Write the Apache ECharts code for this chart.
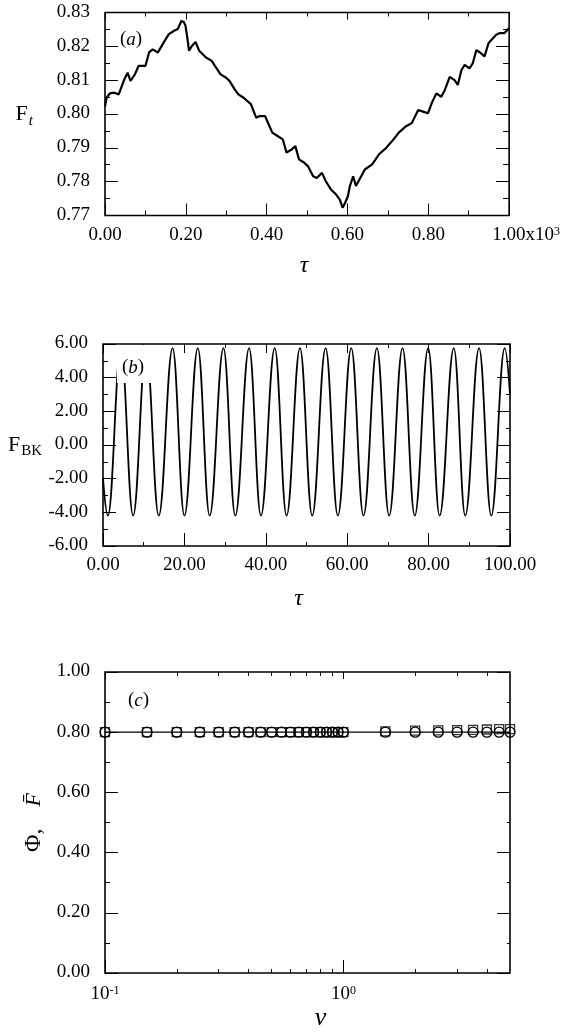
<!DOCTYPE html>
<html><head><meta charset="utf-8">
<script src="https://cdn.jsdelivr.net/npm/echarts@6.0.0/dist/echarts.min.js"></script>
<style>html,body{margin:0;padding:0;background:#fff}#c{width:563px;height:1032px}</style>
</head><body><div id="c"></div>
<script>
// ---------- Panel (a): F_t vs tau ----------
const tauA = [0,4,12,23,34,48,56,63,74,83,100,109,118,131,145,158,171,180,189,195,199,203,208,215,224,233,250,264,272,286,299,308,321,330,343,361,374,383,396,414,427,440,449,462,471,480,493,502,515,524,537,546,559,572,581,588,594,601,606,614,621,630,643,661,678,696,714,727,745,759,775,787,799,808,820,832,841,853,865,873,882,890,902,910,919,931,939,949,956,968,976,988,996,1000];
const ftA = [0.8022,0.8048,0.8061,0.8063,0.8058,0.8103,0.8122,0.8098,0.8117,0.8142,0.8142,0.8182,0.8191,0.8182,0.8211,0.8236,0.8246,0.8251,0.8275,0.8272,0.8262,0.8231,0.8187,0.8201,0.8213,0.8187,0.8167,0.8157,0.8142,0.8117,0.8108,0.8098,0.8073,0.8058,0.8048,0.8029,0.7989,0.7994,0.7994,0.7945,0.7935,0.7925,0.7886,0.7895,0.7905,0.7866,0.7856,0.7846,0.7816,0.7811,0.7826,0.7802,0.7777,0.7762,0.7747,0.7723,0.7737,0.7757,0.7787,0.7816,0.7787,0.7807,0.7836,0.7851,0.7881,0.7900,0.7925,0.7945,0.7964,0.7973,0.8012,0.8007,0.8002,0.8031,0.8061,0.8051,0.8071,0.8110,0.8100,0.8086,0.8130,0.8145,0.8135,0.8150,0.8189,0.8179,0.8170,0.8209,0.8219,0.8234,0.8239,0.8239,0.8249,0.8254];
const xTicksA = [0,200,400,600,800,1000];
const xLabelsA = ['0.00','0.20','0.40','0.60','0.80','1.00x10^3'];
const yTicksA = [0.77,0.78,0.79,0.80,0.81,0.82,0.83];
const yLabelsA = ['0.77','0.78','0.79','0.80','0.81','0.82','0.83'];

// ---------- Panel (b): F_BK vs tau (turning points) ----------
const tauB = [0,1.2,4.4,7.4,10.6,13.7,17.1,20.0,23.3,26.2,29.6,32.5,35.9,38.8,42.2,45.1,48.4,51.4,54.7,57.7,61.0,64.0,67.3,70.3,73.6,76.6,79.9,82.7,86.2,89.0,92.4,95.4,98.7,100];
const fBK = [-2.0,-4.2,5.75,-4.2,5.75,-4.2,5.75,-4.2,5.75,-4.2,5.75,-4.2,5.75,-4.2,5.75,-4.2,5.75,-4.2,5.75,-4.2,5.75,-4.2,5.75,-4.2,5.75,-4.2,5.75,-4.2,5.75,-4.2,5.75,-4.2,5.75,3.0];
const xTicksB = [0,20,40,60,80,100];
const xLabelsB = ['0.00','20.00','40.00','60.00','80.00','100.00'];
const yTicksB = [-6,-4,-2,0,2,4,6];
const yLabelsB = ['-6.00','-4.00','-2.00','0.00','2.00','4.00','6.00'];

// ---------- Panel (c): Phi and F-bar vs nu ----------
const nuC = [0.1,0.15,0.2,0.25,0.3,0.35,0.4,0.45,0.5,0.55,0.6,0.65,0.7,0.75,0.8,0.85,0.9,0.95,1.0,1.5,2.0,2.5,3.0,3.5,4.0,4.5,5.0];
const phiC = [0.800,0.800,0.800,0.800,0.800,0.800,0.800,0.800,0.800,0.800,0.800,0.800,0.800,0.800,0.800,0.800,0.800,0.800,0.800,0.800,0.800,0.800,0.800,0.800,0.800,0.800,0.800];
const fbarC = [0.800,0.800,0.800,0.800,0.800,0.800,0.800,0.800,0.800,0.800,0.800,0.800,0.800,0.800,0.800,0.800,0.800,0.800,0.800,0.803,0.805,0.806,0.807,0.808,0.809,0.810,0.810];
const xMajorC = [0.1,1];
const xLabelsC = ['10^-1','10^0'];
const xMinorC = [0.2,0.3,0.4,0.5,0.6,0.7,0.8,0.9,2,3,4];
const yTicksC = [0,0.2,0.4,0.6,0.8,1.0];
const yLabelsC = ['0.00','0.20','0.40','0.60','0.80','1.00'];

// ---------- styling helpers ----------
const SERIF = 'Liberation Serif';
const BLACK = '#000';
const RICH = {
  n:   {fontFamily: SERIF, fontSize: 19, lineHeight: 20, verticalAlign: 'top', color: BLACK},
  sup: {fontFamily: SERIF, fontSize: 12, lineHeight: 12, verticalAlign: 'top', color: BLACK},
  pad: {width: 34}
};
function toRich(s) {
  const k = s.indexOf('^');
  if (k < 0) return '{n|' + s + '}';
  const base = s.slice(0, k), sup = s.slice(k + 1);
  const pad = base.indexOf('x') >= 0 ? '{pad|}' : '';
  return pad + '{n|' + base + '}{sup|' + sup + '}';
}
function fmt(ticks, labels) {
  return function (v) {
    let k = 0, best = Infinity;
    ticks.forEach(function (t, i) { const d = Math.abs(t - v); if (d < best) { best = d; k = i; } });
    return toRich(labels[k]);
  };
}
function tickStyle(len) { return {show: true, inside: true, length: len, lineStyle: {color: BLACK, width: 1}}; }
function minor(len) { return {show: true, splitNumber: 2, length: len, lineStyle: {color: BLACK, width: 1}}; }
const noLine = {show: false, onZero: false};
const noSplit = {show: false};

function linX(grid, pos, min, max, interval, ticks, labels, name, nameGap, namePad, majorLen, minorLen) {
  const a = {
    type: 'value', gridIndex: grid, position: pos, min: min, max: max, interval: interval,
    axisLine: noLine, splitLine: noSplit, minorSplitLine: noSplit,
    axisTick: tickStyle(majorLen), minorTick: minor(minorLen),
    axisLabel: labels ? {show: true, margin: 10, formatter: fmt(ticks, labels), rich: RICH, hideOverlap: false} : {show: false}
  };
  if (name) {
    a.name = name; a.nameLocation = 'middle'; a.nameGap = nameGap;
    a.nameTextStyle = {fontFamily: SERIF, fontStyle: 'italic', fontSize: 24, color: BLACK, padding: namePad};
  }
  return a;
}
function linY(grid, pos, min, max, interval, ticks, labels, name, nameGap, nameRotate, nameRich, majorLen, minorLen) {
  const a = {
    type: 'value', gridIndex: grid, position: pos, min: min, max: max, interval: interval,
    axisLine: noLine, splitLine: noSplit, minorSplitLine: noSplit,
    axisTick: tickStyle(majorLen), minorTick: minor(minorLen),
    axisLabel: labels ? {show: true, margin: 15, formatter: fmt(ticks, labels), rich: RICH, hideOverlap: false} : {show: false}
  };
  if (name) {
    a.name = name; a.nameLocation = 'middle'; a.nameGap = nameGap;
    if (nameRotate !== null) a.nameRotate = nameRotate;
    a.nameTextStyle = {fontFamily: SERIF, fontSize: 22, color: BLACK, rich: nameRich};
  }
  return a;
}
function logX(pos, tickVals, len, labels) {
  return {
    type: 'log', logBase: 10, gridIndex: 2, position: pos, min: 0.1, max: 5,
    axisLine: noLine, splitLine: noSplit, minorTick: {show: false},
    axisTick: {show: true, inside: true, length: len, customValues: tickVals, lineStyle: {color: BLACK, width: 1}},
    axisLabel: labels ? {show: true, margin: 12, customValues: tickVals, formatter: fmt(tickVals, labels), rich: RICH, hideOverlap: false} : {show: false}
  };
}

const nameRichA = {
  F: {fontFamily: SERIF, fontSize: 22, lineHeight: 22, verticalAlign: 'top', color: BLACK},
  s: {fontFamily: SERIF, fontSize: 15, fontStyle: 'italic', lineHeight: 15, padding: [11, 0, 0, 1], verticalAlign: 'top', color: BLACK}
};
const nameRichB = {
  F: {fontFamily: SERIF, fontSize: 22, lineHeight: 22, verticalAlign: 'top', color: BLACK},
  s: {fontFamily: SERIF, fontSize: 15, lineHeight: 15, padding: [10, 0, 0, 1], verticalAlign: 'top', color: BLACK}
};
const nameRichC = {
  p: {fontFamily: SERIF, fontSize: 24, color: BLACK},
  g: {width: 22},
  f: {fontFamily: SERIF, fontSize: 22, fontStyle: 'italic', color: BLACK}
};

const frame = {show: true, borderColor: BLACK, borderWidth: 1.6, backgroundColor: 'transparent'};
const labelFont = {fontFamily: SERIF, fontSize: 19, fontWeight: 'normal', color: BLACK,
  rich: {i: {fontFamily: SERIF, fontSize: 19, fontStyle: 'italic', color: BLACK}}};

const option = {
  animation: false,
  backgroundColor: '#fff',
  title: [
    {text: '({i|a})', left: 120, top: 30, padding: 0, textStyle: labelFont},
    {text: '({i|b})', left: 117, top: 345, padding: [13, 7, 6, 5], backgroundColor: '#fff', z: 10, textStyle: labelFont},
    {text: '({i|c})', left: 128, top: 691, padding: 0, textStyle: labelFont}
  ],
  grid: [
    Object.assign({left: 105, top: 12.5, width: 406, height: 203}, frame),
    Object.assign({left: 103, top: 344, width: 407, height: 202}, frame),
    Object.assign({left: 105, top: 672, width: 405, height: 301}, frame)
  ],
  xAxis: [
    linX(0, 'bottom', 0, 1000, 200, xTicksA, xLabelsA, 'τ', 38, [0, 6, 0, 0], 12, 5),
    linX(0, 'top', 0, 1000, 200, null, null, null, 0, null, 7, 4),
    linX(1, 'bottom', 0, 100, 20, xTicksB, xLabelsB, 'τ', 41, [0, 16, 0, 0], 13, 4),
    linX(1, 'top', 0, 100, 20, null, null, null, 0, null, 9, 4),
    Object.assign(logX('bottom', xMajorC, 13, xLabelsC), {
      name: 'ν', nameLocation: 'middle', nameGap: 32,
      nameTextStyle: {fontFamily: SERIF, fontStyle: 'italic', fontSize: 26, color: BLACK, padding: [0, 0, 0, 26]}
    }),
    logX('bottom', xMinorC, 4, null),
    logX('top', xMajorC, 7, null),
    logX('top', xMinorC, 4, null)
  ],
  yAxis: [
    linY(0, 'left', 0.77, 0.83, 0.01, yTicksA, yLabelsA, '{F|F}{s|t}', 72, 0, nameRichA, 13, 5),
    linY(0, 'right', 0.77, 0.83, 0.01, null, null, null, 0, null, null, 13, 6),
    linY(1, 'left', -6, 6, 2, yTicksB, yLabelsB, '{F|F}{s|BK}', 61, 0, nameRichB, 13, 5),
    linY(1, 'right', -6, 6, 2, null, null, null, 0, null, null, 13, 4),
    linY(2, 'left', 0, 1, 0.2, yTicksC, yLabelsC, '{p|Φ,}{g|}{f|F̄}', 58, null, nameRichC, 13, 5),
    linY(2, 'right', 0, 1, 0.2, null, null, null, 0, null, null, 13, 3)
  ],
  series: [
    {
      name: 'F_t', type: 'line', xAxisIndex: 0, yAxisIndex: 0,
      data: tauA.map(function (t, i) { return [t, ftA[i]]; }),
      showSymbol: false, lineStyle: {color: BLACK, width: 2.2}, clip: true
    },
    {
      name: 'F_BK', type: 'line', xAxisIndex: 2, yAxisIndex: 2,
      data: tauB.map(function (t, i) { return [t, fBK[i]]; }),
      showSymbol: false, smooth: 0.4, smoothMonotone: 'x',
      lineStyle: {color: BLACK, width: 1.8}, clip: true
    },
    {
      name: 'F̄', type: 'scatter', xAxisIndex: 4, yAxisIndex: 4, z: 2,
      data: nuC.map(function (t, i) { return [t, fbarC[i]]; }),
      symbol: 'rect', symbolSize: 9,
      itemStyle: {color: 'rgba(0,0,0,0)', borderColor: BLACK, borderWidth: 1.3}
    },
    {
      name: 'Φ', type: 'line', xAxisIndex: 4, yAxisIndex: 4, z: 3,
      data: nuC.map(function (t, i) { return [t, phiC[i]]; }),
      symbol: 'circle', symbolSize: 10, showSymbol: true, showAllSymbol: true,
      itemStyle: {color: 'rgba(0,0,0,0)', borderColor: BLACK, borderWidth: 1.3},
      lineStyle: {color: BLACK, width: 1.3}
    }
  ]
};
const chart = echarts.init(document.getElementById('c'), null, {renderer: 'canvas'});
chart.setOption(option);
</script>
</body></html>
